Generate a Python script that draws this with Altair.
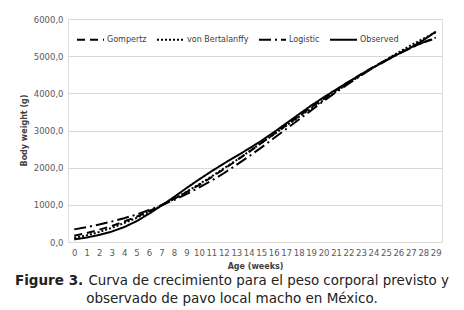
import altair as alt
import pandas as pd

weeks = list(range(30))
observed = [70, 120, 190, 280, 400, 560, 760, 980, 1210, 1450, 1680, 1900, 2110, 2310, 2510,
            2720, 2950, 3190, 3430, 3670, 3890, 4100, 4310, 4510, 4700, 4880, 5060, 5230, 5430, 5660]
gompertz = [170, 240, 330, 430, 550, 680, 830, 990, 1160, 1340, 1530, 1740, 1960, 2190, 2420,
            2660, 2900, 3140, 3380, 3620, 3850, 4080, 4300, 4510, 4710, 4900, 5070, 5230, 5370, 5480]
bertalanffy = [110, 180, 270, 380, 510, 650, 810, 980, 1160, 1350, 1550, 1760, 1980, 2200, 2430,
               2660, 2890, 3130, 3360, 3590, 3820, 4050, 4270, 4490, 4700, 4900, 5100, 5290, 5470, 5640]
logistic = [340, 400, 470, 550, 640, 740, 860, 990, 1130, 1290, 1460, 1650, 1850, 2070, 2300,
            2540, 2790, 3040, 3290, 3540, 3790, 4030, 4260, 4480, 4690, 4880, 5060, 5220, 5370, 5500]
series_names = ["Gompertz", "von Bertalanffy", "Logistic", "Observed"]
y_ticks = [0, 1000, 2000, 3000, 4000, 5000, 6000]
caption_bold = "Figure 3."
caption_line1 = "Curva de crecimiento para el peso corporal previsto y"
caption_line2 = "observado de pavo local macho en México."

rows = []
for name, vals in zip(series_names, [gompertz, bertalanffy, logistic, observed]):
    for w, v in zip(weeks, vals):
        rows.append({"week": w, "weight": v, "series": name})
df = pd.DataFrame(rows)

FONT = "DejaVu Sans"

lines = alt.Chart(df).mark_line(color="black", strokeWidth=2).encode(
    x=alt.X("week:O", title="Age (weeks)", sort=weeks,
            axis=alt.Axis(labelAngle=0, grid=False, ticks=False, domain=False,
                          labelFontSize=8.5, labelColor="#595959", labelPadding=6,
                          titleFontSize=8, titleFontWeight="bold", titleColor="#404040",
                          titlePadding=6, labelFont=FONT, titleFont=FONT)),
    y=alt.Y("weight:Q", title="Body weight (g)", scale=alt.Scale(domain=[0, 6000]),
            axis=alt.Axis(values=y_ticks, labelExpr="replace(format(datum.value, '.1f'), '.', ',')",
                          ticks=False, domain=False, gridColor="#d9d9d9", labelFontSize=8.5,
                          labelColor="#595959", labelPadding=5, titleFontSize=8,
                          titleFontWeight="bold", titleColor="#404040",
                          titleX=-44, titleY=111, titleBaseline="middle",
                          labelFont=FONT, titleFont=FONT)),
    strokeDash=alt.StrokeDash("series:N", sort=series_names,
                              scale=alt.Scale(domain=series_names,
                                              range=[[8, 5], [2, 2], [12, 4, 2, 4], [1, 0]]),
                              legend=alt.Legend(orient="none", legendX=8, legendY=6,
                                                direction="horizontal", title=None,
                                                symbolType="stroke", symbolSize=729,
                                                symbolStrokeWidth=2, symbolStrokeColor="black",
                                                labelFontSize=8, labelFont=FONT,
                                                labelColor="#404040", columnPadding=6,
                                                labelOffset=2, labelLimit=200)),
)

cap_df = pd.DataFrame({"k": [0]})
cap_bold = alt.Chart(cap_df).mark_text(text=caption_bold, font=FONT, fontSize=13.5,
                                       fontWeight="bold", align="left", baseline="alphabetic",
                                       color="#222222").encode(
    x=alt.value(-53), y=alt.value(266))
cap_l1 = alt.Chart(cap_df).mark_text(text=caption_line1, font=FONT, fontSize=13.4,
                                     align="right", baseline="alphabetic",
                                     color="#222222").encode(
    x=alt.value(381), y=alt.value(266))
cap_l2 = alt.Chart(cap_df).mark_text(text=caption_line2, font=FONT, fontSize=13.5,
                                     align="center", baseline="alphabetic",
                                     color="#222222").encode(
    x=alt.value(164), y=alt.value(284))

chart = alt.layer(lines, cap_bold, cap_l1, cap_l2).properties(
    width=374, height=223,
    autosize=alt.AutoSizeParams(type="none"),
    padding={"left": 68, "top": 19, "right": 22, "bottom": 68},
).configure_view(stroke=None).configure(background="white")

chart.save("out.html", embed_options={"renderer": "svg", "actions": False})
